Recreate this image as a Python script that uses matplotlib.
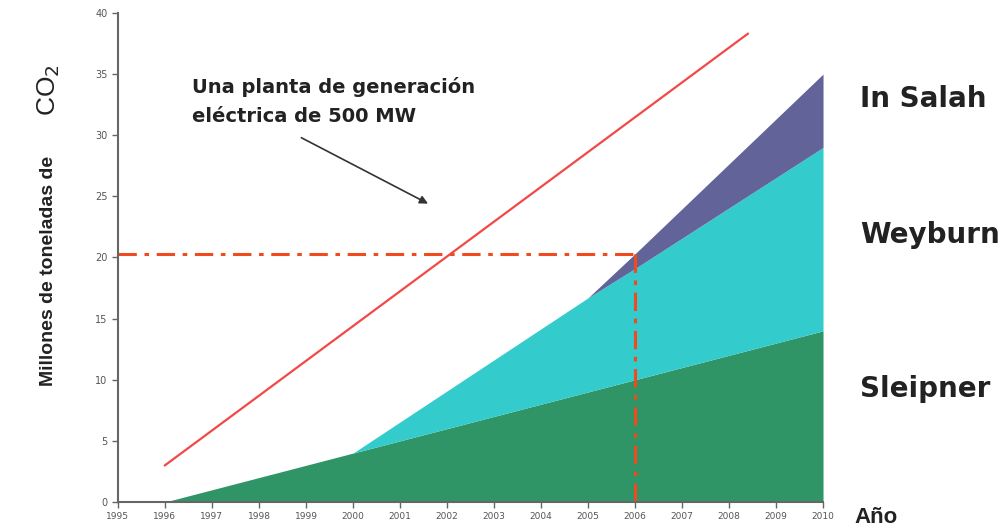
import matplotlib
matplotlib.use("Agg")
import matplotlib.pyplot as plt
import numpy as np

# Data
years_sleipner = [1996, 2000, 2006, 2010]
sleipner = [0, 4, 10, 14]
years_weyburn = [2000, 2005, 2006, 2010]
weyburn = [0, 7.7, 9.1, 15]
years_insalah = [2005, 2006, 2010]
insalah = [0, 1.2, 6]
plant_years = [1996, 2008.4]
plant_values = [3.0, 38.3]
ref_year = 2006
ref_value = 20.3
xticks = list(range(1995, 2011))
yticks = list(range(0, 41, 5))

c_sleip = "#2f9466"
c_wey = "#33cbcb"
c_ins = "#626399"
c_red = "#f24848"
c_dash = "#f04a1e"

fig = plt.figure(figsize=(10.08, 5.31), dpi=100)
ax = fig.add_axes([0.117, 0.0546, 0.6995, 0.921])

grid = np.array(sorted(set(years_sleipner + years_weyburn + years_insalah)))
s = np.interp(grid, years_sleipner, sleipner, left=np.nan)
w = np.interp(grid, years_weyburn, weyburn, left=0)
i = np.interp(grid, years_insalah, insalah, left=0)
s_top = s
w_top = s + w
i_top = w_top + i

ax.fill_between(grid, 0, s_top, color=c_sleip, lw=0, zorder=2)
mw = grid >= years_weyburn[0]
ax.fill_between(grid[mw], s_top[mw], w_top[mw], color=c_wey, lw=0, zorder=2)
mi = grid >= years_insalah[0]
ax.fill_between(grid[mi], w_top[mi], i_top[mi], color=c_ins, lw=0, zorder=2)

ax.plot(plant_years, plant_values, color=c_red, lw=1.6, zorder=3)

ax.plot([1995, ref_year], [ref_value, ref_value], color=c_dash, lw=2.2,
        linestyle=(0, (6, 2.5, 1.5, 2.5)), zorder=4)
ax.plot([ref_year, ref_year], [ref_value, 0], color=c_dash, lw=2.2,
        linestyle=(0, (6, 2.5, 1.5, 2.5)), zorder=4)

ax.set_xlim(1995, 2010)
ax.set_ylim(0, 40)
ax.set_xticks(xticks)
ax.set_yticks(yticks)
ax.set_xticklabels([str(x) for x in xticks], fontsize=6.5, color="#555555")
ax.set_yticklabels([str(y) for y in yticks], fontsize=7, color="#555555")
for sp in ["top", "right"]:
    ax.spines[sp].set_visible(False)
for sp in ["left", "bottom"]:
    ax.spines[sp].set_color("#666666")
    ax.spines[sp].set_linewidth(1.5)
    ax.spines[sp].set_zorder(5)
ax.tick_params(axis="both", color="#666666", length=4, width=1, direction="out")

ax.text(1996.57, 33.46, "Una planta de generación", fontsize=14,
        fontweight="bold", family="DejaVu Sans", color="#222222",
        ha="left", va="baseline")
ax.text(1996.57, 31.08, "eléctrica de 500 MW", fontsize=14,
        fontweight="bold", family="DejaVu Sans", color="#222222",
        ha="left", va="baseline")
ax.annotate("", xy=(2001.65, 24.3), xytext=(1998.85, 29.9),
            arrowprops=dict(arrowstyle="-|>", color="#333333", lw=1.2,
                            mutation_scale=12))

for label, yb in [("In Salah", 0.7985), ("Weyburn", 0.5424), ("Sleipner", 0.2524)]:
    fig.text(0.853, yb, label, fontsize=20, fontweight="bold",
             family="DejaVu Sans", color="#222222", va="baseline")
fig.text(0.848, 0.015, "Año", fontsize=16, fontweight="bold",
         family="Liberation Sans", color="#222222", va="baseline")

fig.text(0.048, 0.49, "Millones de toneladas de", rotation=90, fontsize=14,
         fontweight="bold", family="Liberation Sans",
         color="#222222", ha="center", va="center")
fig.text(0.048, 0.83, r"CO$_2$", rotation=90, fontsize=19,
         family="Liberation Sans", color="#222222", ha="center", va="center")

fig.savefig("out.png", dpi=100)
